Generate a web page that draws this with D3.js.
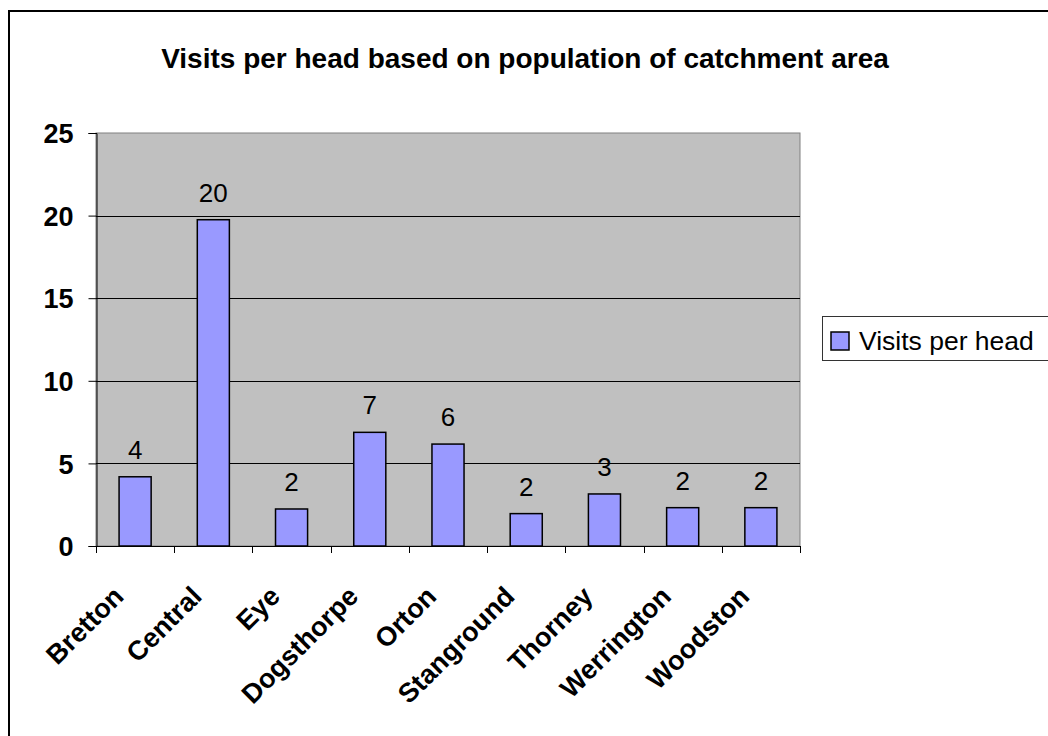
<!DOCTYPE html>
<html>
<head>
<meta charset="utf-8">
<script src="https://cdn.jsdelivr.net/npm/d3@7"></script>
<style>
  body { margin: 0; background: #fff; }
  svg { display: block; font-family: Arial, "Liberation Sans", sans-serif; }
</style>
</head>
<body>
<svg id="chart" width="1048" height="736"></svg>
<script>
// data
const branches = ['Bretton', 'Central', 'Eye', 'Dogsthorpe', 'Orton', 'Stanground', 'Thorney', 'Werrington', 'Woodston']
const visitsPerHead = [4.19, 19.75, 2.24, 6.88, 6.17, 1.96, 3.15, 2.32, 2.32]
const yTicks = [0, 5, 10, 15, 20, 25]
const titleText = 'Visits per head based on population of catchment area'
const seriesName = 'Visits per head'

const svg = d3.select('#chart')
const plot = { left: 96, right: 800, top: 133, bottom: 546 }

// outer chart frame (runs off the right and bottom of the picture)
svg.append('rect')
  .attr('x', 9).attr('y', 11)
  .attr('width', 1100).attr('height', 800)
  .attr('fill', '#fff').attr('stroke', '#000').attr('stroke-width', 2)

svg.append('text')
  .attr('x', 525).attr('y', 68)
  .attr('text-anchor', 'middle')
  .style('font-size', '28px').style('font-weight', 'bold')
  .text(titleText)

const x = d3.scaleBand()
  .domain(branches)
  .range([plot.left, plot.right])
  .paddingInner(0.59)
  .paddingOuter(0.295)

const y = d3.scaleLinear()
  .domain([0, 25])
  .range([plot.bottom, plot.top])

// plot area
svg.append('rect')
  .attr('x', plot.left).attr('y', plot.top)
  .attr('width', plot.right - plot.left).attr('height', plot.bottom - plot.top)
  .attr('fill', '#c0c0c0').attr('stroke', '#808080').attr('stroke-width', 1)

svg.selectAll('line.grid')
  .data(yTicks.filter(t => t > 0 && t < 25))
  .enter().append('line').classed('grid', true)
  .attr('x1', plot.left).attr('x2', plot.right)
  .attr('y1', d => Math.round(y(d)) + 0.5).attr('y2', d => Math.round(y(d)) + 0.5)
  .attr('stroke', '#000').attr('stroke-width', 1)

// y axis
const yAxis = svg.append('g')
  .attr('transform', `translate(${plot.left + 0.5},0)`)
  .call(d3.axisLeft(y).tickValues(yTicks).tickSize(8).tickPadding(15))
yAxis.select('.domain').attr('stroke', '#000')
yAxis.selectAll('.tick text')
  .style('font-size', '27px').style('font-weight', 'bold')
  .attr('fill', '#000').attr('font-family', null)
  .attr('dy', '0.36em')

// x axis: ticks sit on the category boundaries
const boundaries = d3.range(branches.length + 1).map(i => plot.left + i * x.step())
svg.append('line')
  .attr('x1', plot.left).attr('x2', plot.right)
  .attr('y1', plot.bottom + 0.5).attr('y2', plot.bottom + 0.5)
  .attr('stroke', '#000')
svg.selectAll('line.xtick')
  .data(boundaries)
  .enter().append('line').classed('xtick', true)
  .attr('x1', d => Math.round(d) + 0.5).attr('x2', d => Math.round(d) + 0.5)
  .attr('y1', plot.bottom).attr('y2', plot.bottom + 7)
  .attr('stroke', '#000')

svg.selectAll('text.xlabel')
  .data(branches)
  .enter().append('text').classed('xlabel', true)
  .attr('text-anchor', 'end')
  .attr('transform', d => `translate(${x(d) + x.bandwidth() / 2 - 10},${plot.bottom + 52}) rotate(-45)`)
  .style('font-size', '27px').style('font-weight', 'bold')
  .text(d => d)

// bars
svg.selectAll('rect.bar')
  .data(visitsPerHead)
  .enter().append('rect').classed('bar', true)
  .attr('x', (d, i) => x(branches[i]))
  .attr('y', d => y(d))
  .attr('width', x.bandwidth())
  .attr('height', d => y(0) - y(d))
  .attr('fill', '#9999ff').attr('stroke', '#000').attr('stroke-width', 1.5)

svg.selectAll('text.value')
  .data(visitsPerHead)
  .enter().append('text').classed('value', true)
  .attr('x', (d, i) => x(branches[i]) + x.bandwidth() / 2)
  .attr('y', d => y(d) - 18)
  .attr('text-anchor', 'middle')
  .style('font-size', '26px')
  .text(d => Math.round(d))

// legend
const legend = svg.append('g')
legend.append('rect')
  .attr('x', 822.5).attr('y', 316.5).attr('width', 300).attr('height', 44)
  .attr('fill', '#fff').attr('stroke', '#333')
legend.append('rect')
  .attr('x', 831).attr('y', 332).attr('width', 18).attr('height', 18)
  .attr('fill', '#9999ff').attr('stroke', '#000').attr('stroke-width', 1.5)
legend.append('text')
  .attr('x', 859).attr('y', 350)
  .style('font-size', '26.5px')
  .text(seriesName)
</script>
</body>
</html>
